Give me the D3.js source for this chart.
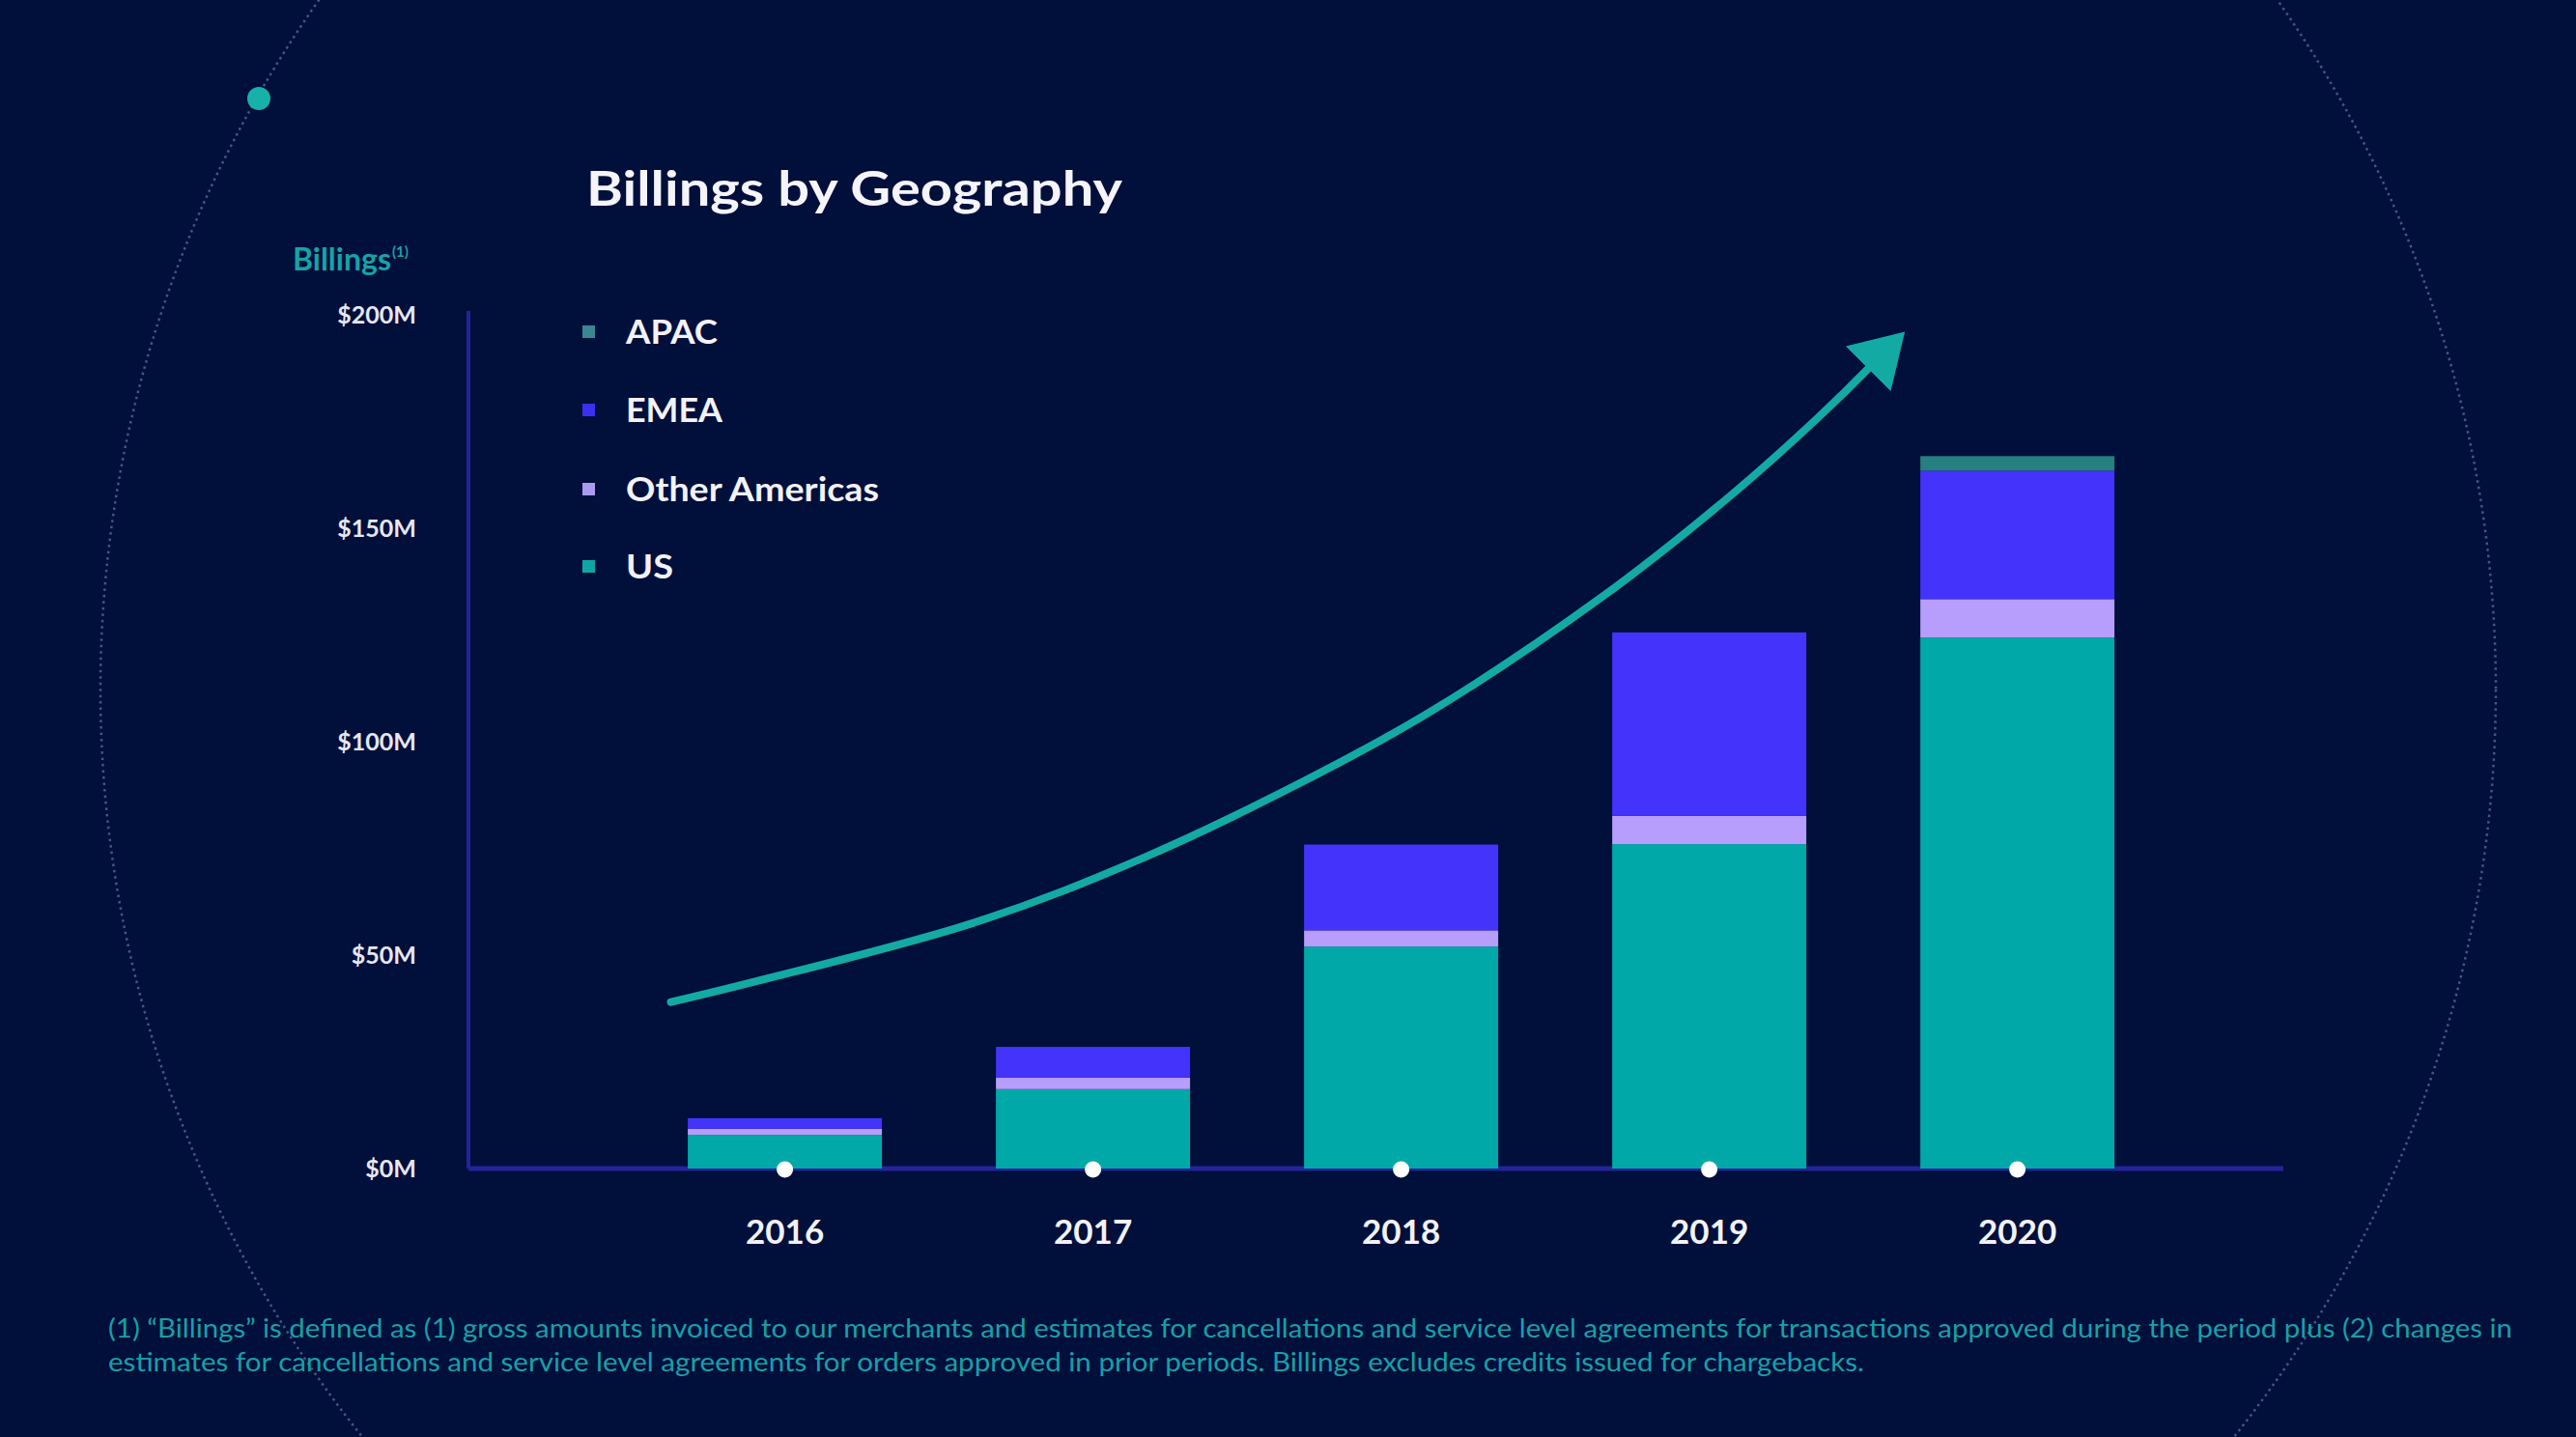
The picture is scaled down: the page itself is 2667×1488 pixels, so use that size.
<!DOCTYPE html>
<html>
<head>
<meta charset="utf-8">
<script src="https://cdn.jsdelivr.net/npm/d3@7"></script>
<style>
  html, body { margin: 0; padding: 0; background: #010f3b; }
  svg { display: block; }
  text { font-family: Lato, "Open Sans", sans-serif; }
</style>
</head>
<body>
<svg id="chart" width="2667" height="1488"></svg>
<script>
// ---- Data ($M) ----
const years = ["2016", "2017", "2018", "2019", "2020"];
const seriesNames = ["US", "Other Americas", "EMEA", "APAC"]; // stack order bottom -> top
const legendOrder = ["APAC", "EMEA", "Other Americas", "US"];
const usValues     = [7.9, 18.6, 52.0, 76.0, 124.4];
const otherAmericasValues = [1.4, 2.7, 3.8, 6.6, 9.0];
const emeaValues   = [2.5, 7.2, 20.1, 43.0, 30.1];
const apacValues   = [0, 0, 0, 0, 3.4];
const yTicks = [0, 50, 100, 150, 200];
const yTickLabels = ["$0M", "$50M", "$100M", "$150M", "$200M"];
// growth arrow path in data space: [year index, $M]
const arrowPoints = [[-0.37, 39.0], [0.61, 57.5], [1.17, 73.0], [1.68, 90.6], [2.09, 106.8],
                     [2.65, 133.8], [3.07, 157.7], [3.35, 175.7], [3.52, 187.7]];
const footnoteLines = [
  "(1) \u201cBillings\u201d is defined as (1) gross amounts invoiced to our merchants and estimates for cancellations and service level agreements for transactions approved during the period plus (2) changes in",
  "estimates for cancellations and service level agreements for orders approved in prior periods. Billings excludes credits issued for chargebacks."
];

const colors = {
  "US": "#00a9a8",
  "Other Americas": "#b79dfc",
  "EMEA": "#4433fb",
  "APAC": "#25807f"
};
const legendColors = {
  "US": "#0fa6a6",
  "Other Americas": "#a99cf0",
  "EMEA": "#3b30f0",
  "APAC": "#3a8793"
};
const legendTextLen = { "APAC": 95, "EMEA": 100, "Other Americas": 262, "US": 49 };

const table = years.map((y, i) => ({
  year: y,
  "US": usValues[i],
  "Other Americas": otherAmericasValues[i],
  "EMEA": emeaValues[i],
  "APAC": apacValues[i]
}));

const svg = d3.select("#chart");
const W = 2667, H = 1488;

svg.append("rect").attr("width", W).attr("height", H).attr("fill", "#010f3b");

// decorative dotted circle
svg.append("circle")
  .attr("cx", 1344).attr("cy", 714).attr("r", 1240)
  .attr("fill", "none")
  .attr("stroke", "#5a6796")
  .attr("stroke-width", 2.5)
  .attr("stroke-dasharray", "2.5 4")
  .attr("opacity", 0.8);
svg.append("circle").attr("cx", 268).attr("cy", 102).attr("r", 12).attr("fill", "#16b2a9");

// scales
const axisLeft = 485, axisRight = 2364, y0 = 1210, yTop = 326;
const x = d3.scaleBand().domain(years).range([axisLeft, axisRight])
  .paddingInner(0.37).paddingOuter(0.63).align(0.565);
const y = d3.scaleLinear().domain([0, 200]).range([y0, yTop]);
const xi = d3.scaleLinear().domain([0, years.length - 1])
  .range([x(years[0]) + x.bandwidth() / 2, x(years[years.length - 1]) + x.bandwidth() / 2]);

// title
svg.append("text")
  .attr("x", 607).attr("y", 213)
  .attr("fill", "#f4f4fa")
  .attr("font-size", 50).attr("font-weight", 700)
  .attr("textLength", 555).attr("lengthAdjust", "spacingAndGlyphs")
  .text("Billings by Geography");

// y-axis title
const yt = svg.append("text")
  .attr("x", 303).attr("y", 280)
  .attr("fill", "#16a3a6")
  .attr("font-size", 32).attr("font-weight", 700);
yt.append("tspan").text("Billings");
yt.append("tspan").attr("font-size", 15).attr("dy", -14).attr("dx", 1).text("(1)");

// y tick labels
const yAxis = d3.axisLeft(y).tickValues(yTicks)
  .tickFormat((d, i) => yTickLabels[i]).tickSize(0).tickPadding(0);
const gy = svg.append("g").attr("transform", `translate(431,0)`).call(yAxis);
gy.select(".domain").remove();
gy.selectAll("text")
  .attr("fill", "#e6e7f2")
  .attr("font-size", 25).attr("font-weight", 700)
  .attr("font-family", "Lato, sans-serif")
  .attr("dy", "0.35em");

// axis lines
svg.append("line").attr("x1", axisLeft).attr("x2", axisLeft).attr("y1", 322).attr("y2", y0)
  .attr("stroke", "#25239a").attr("stroke-width", 4);
svg.append("line").attr("x1", axisLeft).attr("x2", axisRight).attr("y1", y0).attr("y2", y0)
  .attr("stroke", "#25239a").attr("stroke-width", 5);

// stacked bars
const stack = d3.stack().keys(seriesNames);
const stacked = stack(table);
svg.append("g").selectAll("g")
  .data(stacked)
  .join("g")
  .attr("fill", d => colors[d.key])
  .selectAll("rect")
  .data(d => d)
  .join("rect")
  .attr("x", d => x(d.data.year))
  .attr("width", x.bandwidth())
  .attr("y", d => y(d[1]))
  .attr("height", d => Math.max(0, y(d[0]) - y(d[1])));

// x dots + labels
const xAxis = d3.axisBottom(x).tickSize(0).tickPadding(0);
const gx = svg.append("g").attr("transform", `translate(0,${y0})`).call(xAxis);
gx.select(".domain").remove();
gx.selectAll("text")
  .attr("fill", "#f2f2f8")
  .attr("font-size", 35).attr("font-weight", 700)
  .attr("font-family", "Lato, sans-serif")
  .attr("dy", 0)
  .attr("y", 78);
svg.append("g").selectAll("circle")
  .data(years)
  .join("circle")
  .attr("cx", d => x(d) + x.bandwidth() / 2)
  .attr("cy", y0 + 1)
  .attr("r", 8.5)
  .attr("fill", "#ffffff");

// legend
const lg = svg.append("g");
const legendY = [344, 425, 507, 587];
legendOrder.forEach((k, i) => {
  lg.append("rect").attr("x", 603).attr("y", legendY[i] - 7).attr("width", 13).attr("height", 13)
    .attr("fill", legendColors[k]);
  lg.append("text").attr("x", 648).attr("y", legendY[i]).attr("dy", "0.36em")
    .attr("fill", "#f2f2f8").attr("font-size", 34).attr("font-weight", 700)
    .attr("textLength", legendTextLen[k]).attr("lengthAdjust", "spacingAndGlyphs")
    .text(k);
});

// growth arrow
const defs = svg.append("defs");
defs.append("marker")
  .attr("id", "arrowhead")
  .attr("viewBox", "0 0 54 66")
  .attr("refX", 2).attr("refY", 33)
  .attr("markerWidth", 54).attr("markerHeight", 66)
  .attr("markerUnits", "userSpaceOnUse")
  .attr("orient", "auto")
  .append("path").attr("d", "M0,0 L54,33 L0,66 Z").attr("fill", "#13aaa3");
const line = d3.line()
  .x(d => xi(d[0])).y(d => y(d[1]))
  .curve(d3.curveCatmullRom.alpha(0.5));
svg.append("path")
  .attr("d", line(arrowPoints))
  .attr("fill", "none")
  .attr("stroke", "#13aaa3")
  .attr("stroke-width", 8)
  .attr("stroke-linecap", "round")
  .attr("marker-end", "url(#arrowhead)");

// footnote
const fnY = [1385, 1420];
const fnLen = [2489, 1818];
footnoteLines.forEach((t, i) => {
  svg.append("text")
    .attr("x", 112).attr("y", fnY[i])
    .attr("fill", "#17a0a8")
    .attr("font-size", 26).attr("font-weight", 400)
    .attr("textLength", fnLen[i]).attr("lengthAdjust", "spacingAndGlyphs")
    .text(t);
});
</script>
</body>
</html>
